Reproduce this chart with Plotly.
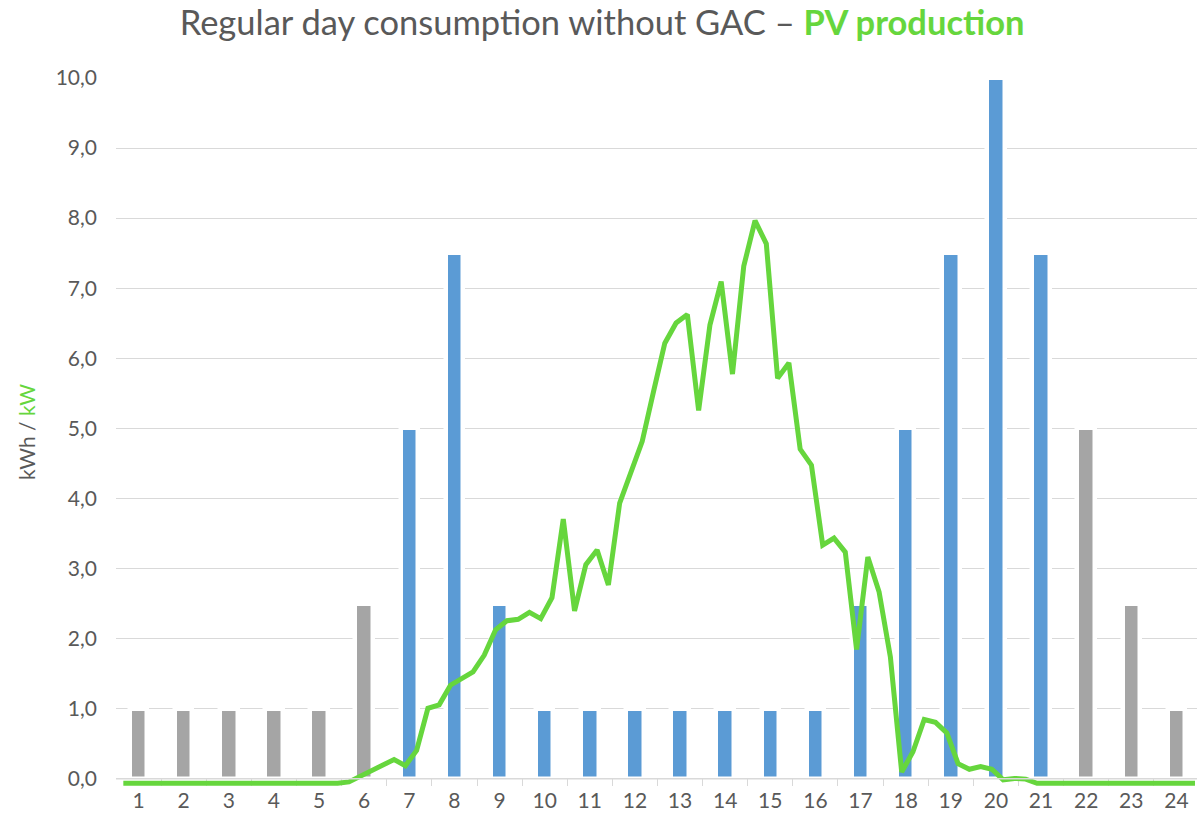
import plotly.graph_objects as go

# ---- data ----
hours = [str(h) for h in range(1, 25)]
consumption = [1.0, 1.0, 1.0, 1.0, 1.0, 2.5, 5.0, 7.5, 2.5, 1.0, 1.0, 1.0,
               1.0, 1.0, 1.0, 1.0, 2.5, 5.0, 7.5, 10.0, 7.5, 5.0, 2.5, 1.0]
bar_colors = ["#A5A5A5"] * 6 + ["#5B9BD5"] * 15 + ["#A5A5A5"] * 3

# PV production, quarter-hour resolution (96 points)
pv = ([0.0] * 20 +
      [0.02, 0.10, 0.18, 0.27, 0.34, 0.25, 0.47, 1.07, 1.12, 1.40,
       1.50, 1.59, 1.83, 2.19, 2.32, 2.34, 2.44, 2.35, 2.65, 3.77,
       2.46, 3.12, 3.33, 2.83, 4.00, 4.42, 4.88, 5.59, 6.28, 6.57,
       6.69, 5.32, 6.54, 7.16, 5.84, 7.38, 8.03, 7.70, 5.78, 6.00,
       4.77, 4.54, 3.40, 3.50, 3.30, 1.91, 3.23, 2.73, 1.80, 0.16,
       0.45, 0.91, 0.87, 0.72, 0.28, 0.20, 0.24, 0.20, 0.05, 0.07,
       0.06] +
      [0.0] * 15)
quarters = list(range(len(pv)))

y_ticks = list(range(0, 11))

GREEN = "#66D63D"
TEXT = "#595959"
GRID = "#D9D9D9"
FONT = "Lato"

fig = go.Figure()
fig.add_trace(go.Bar(
    x=hours, y=consumption, width=0.39,
    marker=dict(color=bar_colors, line=dict(color="white", width=4.5)),
    showlegend=False, hoverinfo="x+y"))
fig.add_trace(go.Scatter(
    x=quarters, y=pv, mode="lines", xaxis="x2", yaxis="y2",
    line=dict(color=GREEN, width=5), showlegend=False))

fig.update_layout(
    width=1197, height=820,
    margin=dict(l=116, r=0, t=78, b=34),
    plot_bgcolor="white", paper_bgcolor="white",
    separators=",.",
    font=dict(family=FONT, color=TEXT, size=21),
    title=dict(
        text="Regular day consumption without GAC – <b><span style='color:%s'>PV production</span></b>" % GREEN,
        x=0.503, xanchor="center", xref="container",
        y=1 - 23 / 820, yanchor="middle", yref="container",
        font=dict(family=FONT, size=34.5, color=TEXT)),
    xaxis=dict(
        type="category", range=[-0.5, 23.456],
        showgrid=False, showline=False, zeroline=False,
        ticks="inside", ticklen=7, tickcolor=GRID, tickwidth=1,
        tickson="boundaries", layer="below traces",
        tickfont=dict(size=21, color=TEXT)),
    yaxis=dict(
        range=[-0.104, 10.0],
        tickvals=y_ticks, tickformat=".1f",
        showgrid=True, gridcolor=GRID, gridwidth=1,
        zeroline=False,
        showline=False, ticks="",
        ticklabelstandoff=18,
        tickfont=dict(size=21, color=TEXT),
        title=dict(text="kWh / <span style='color:%s'>kW</span>" % GREEN,
                   font=dict(size=21, color=TEXT), standoff=14)),
    xaxis2=dict(overlaying="x", range=[-0.65, 95.18], visible=False,
                showgrid=False, zeroline=False),
    yaxis2=dict(overlaying="y", range=[-0.0385, 10.066], visible=False,
                showgrid=False, zeroline=False),
    bargap=0.0,
)

# category axis baseline drawn above the bars (as in the original)
fig.add_shape(type="line", xref="paper", x0=0, x1=1, yref="y", y0=0, y1=0,
              line=dict(color=GRID, width=1.5), layer="above")

fig.write_html("out.html", config={"displayModeBar": False},
               post_script="document.body.style.margin='0';document.body.style.overflow='hidden';")
